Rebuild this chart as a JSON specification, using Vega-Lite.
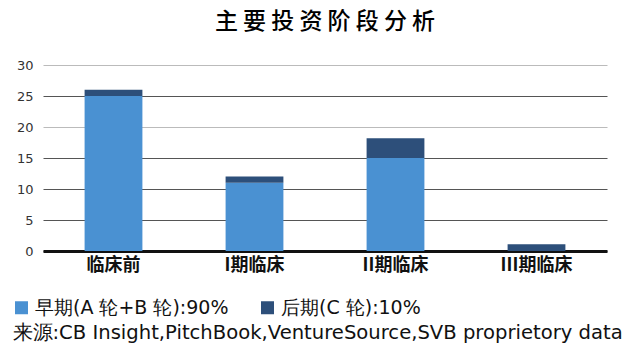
{
  "$schema": "https://vega.github.io/schema/vega-lite/v6.json",
  "autosize": {"type": "none"},
  "padding": {"left": 43, "top": 65, "right": 28, "bottom": 104},
  "width": 564,
  "height": 186,
  "background": "white",
  "title": {
    "text": "主 要 投 资 阶 段 分 析",
    "font": "Noto Sans CJK SC",
    "fontSize": 23,
    "fontWeight": 500,
    "color": "#000000",
    "anchor": "middle",
    "offset": 25
  },
  "data": {
    "values": [
      {"stage": "临床前", "phase": "早期(A 轮+B 轮):90%", "value": 25},
      {"stage": "临床前", "phase": "后期(C 轮):10%", "value": 1},
      {"stage": "I期临床", "phase": "早期(A 轮+B 轮):90%", "value": 11},
      {"stage": "I期临床", "phase": "后期(C 轮):10%", "value": 1},
      {"stage": "II期临床", "phase": "早期(A 轮+B 轮):90%", "value": 15},
      {"stage": "II期临床", "phase": "后期(C 轮):10%", "value": 3.2},
      {"stage": "III期临床", "phase": "早期(A 轮+B 轮):90%", "value": 0},
      {"stage": "III期临床", "phase": "后期(C 轮):10%", "value": 1.1}
    ]
  },
  "mark": {"type": "bar"},
  "encoding": {
    "x": {
      "field": "stage",
      "type": "nominal",
      "sort": ["临床前", "I期临床", "II期临床", "III期临床"],
      "scale": {"paddingInner": 0.59, "paddingOuter": 0.295},
      "axis": {
        "title": "来源:CB Insight,PitchBook,VentureSource,SVB proprietory data",
        "titleX": -31,
        "titleY": 87,
        "titleAlign": "left",
        "titleAnchor": "start",
        "titleBaseline": "alphabetic",
        "titleFont": "DejaVu Sans",
        "titleFontSize": 19.6,
        "titleFontWeight": "normal",
        "titleColor": "#111111",
        "labelAngle": 0,
        "labelFont": "Noto Sans CJK SC",
        "labelFontSize": 18,
        "labelFontWeight": "bold",
        "labelColor": "#111111",
        "labelPadding": 5,
        "ticks": false,
        "domainColor": "#111111",
        "domainWidth": 3
      }
    },
    "y": {
      "field": "value",
      "type": "quantitative",
      "stack": "zero",
      "scale": {"domain": [0, 30]},
      "axis": {
        "title": null,
        "values": [0, 5, 10, 15, 20, 25, 30],
        "domain": false,
        "ticks": false,
        "labelPadding": 10,
        "labelFont": "DejaVu Sans",
        "labelFontSize": 13,
        "labelColor": "#333333",
        "gridColor": {"condition": {"test": "datum.value == 30 || datum.value == 20", "value": "#bbbbbb"}, "value": "#555555"},
        "gridWidth": 1
      }
    },
    "color": {
      "field": "phase",
      "type": "nominal",
      "sort": ["早期(A 轮+B 轮):90%", "后期(C 轮):10%"],
      "scale": {
        "domain": ["早期(A 轮+B 轮):90%", "后期(C 轮):10%"],
        "range": ["#4a91d2", "#2d4f7a"]
      },
      "legend": {
        "title": null,
        "orient": "none",
        "legendX": -31,
        "legendY": 233,
        "direction": "horizontal",
        "columns": 2,
        "columnPadding": 29,
        "symbolType": "square",
        "symbolSize": 169,
        "symbolStrokeWidth": 0,
        "labelFont": "DejaVu Sans",
        "labelFontSize": 19,
        "labelColor": "#111111",
        "labelOffset": 4,
        "labelLimit": 400
      }
    }
  },
  "config": {
    "view": {"stroke": null}
  }
}
